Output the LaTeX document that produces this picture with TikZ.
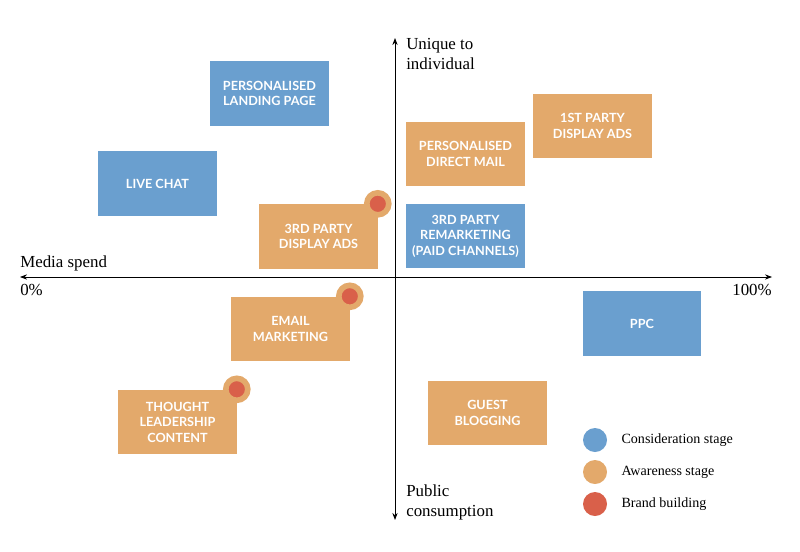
\documentclass[tikz,border=0pt]{standalone}
\usepackage{fontspec}
\setmainfont{Liberation Serif}
\newfontfamily\boxfont{Lato}
\usetikzlibrary{positioning,arrows.meta}
\definecolor{consblue}{HTML}{6A9FCF}
\definecolor{awareorange}{HTML}{E3A96B}
\definecolor{brandred}{HTML}{D9604A}

\begin{document}
\begin{tikzpicture}[
    x=0.025cm, y=-0.025cm,
    box/.style={rectangle, minimum width=2.95cm, minimum height=1.62cm, text=white, align=center, font=\boxfont\bfseries\small},
    cons/.style={box, fill=consblue},
    aware/.style={box, fill=awareorange},
    brand/.style={circle, fill=brandred, draw=awareorange, line width=4pt, minimum size=0.55cm, inner sep=0pt},
    dot/.style={circle, minimum size=0.6cm, inner sep=0pt},
    axis/.style={{Stealth[length=5pt]}-{Stealth[length=5pt]}, line width=0.6pt},
    lbl/.style={font=\large, align=left, inner sep=0pt}
]
\useasboundingbox (0,0) rectangle (800,551);

% axes
\coordinate (xl) at (20,277);
\coordinate (xr) at (772,277);
\coordinate (yt) at (395,38);
\coordinate (yb) at (395,520);
\draw[axis] (xl) -- (xr);
\draw[axis] (yt) -- (yb);

\node[lbl, anchor=north west] (unique) at (406,38) {Unique to\\individual};
\node[lbl, anchor=south west] (public) at (406,520) {Public\\consumption};
\node[lbl, anchor=south west] (spend) at (20,271) {Media spend};
\node[lbl, anchor=north west] (zero) at (20,284) {0\%};
\node[lbl, anchor=north east] (hundred) at (772,284) {100\%};

% boxes
\node[cons] (landing) at (269.5,93.5) {PERSONALISED\\LANDING PAGE};
\node[cons] (chat) at (157.5,183.5) {LIVE CHAT};
\node[aware] (thirdads) at (318.5,236.5) {3RD PARTY\\DISPLAY ADS};
\node[aware] (mail) at (465.5,154) {PERSONALISED\\DIRECT MAIL};
\node[aware] (firstads) at (592.5,126) {1ST PARTY\\DISPLAY ADS};
\node[cons] (remarket) at (465.5,236) {3RD PARTY\\REMARKETING\\(PAID CHANNELS)};
\node[cons] (ppc) at (642,323.5) {PPC};
\node[aware] (email) at (290.5,329) {EMAIL\\MARKETING};
\node[aware] (guest) at (487.5,413) {GUEST\\BLOGGING};
\node[aware] (thought) at (177.5,422) {THOUGHT\\LEADERSHIP\\CONTENT};

% brand building markers
\node[brand] (b1) at (thirdads.north east) {};
\node[brand] (b2) at (email.north east) {};
\node[brand] (b3) at (thought.north east) {};

% legend
\node[dot, fill=consblue] (lcons) at (595,440) {};
\node[dot, fill=awareorange] (laware) at (595,472) {};
\node[dot, fill=brandred] (lbrand) at (595,504) {};
\node[right=0.35cm of lcons, inner sep=0pt] {Consideration stage};
\node[right=0.35cm of laware, inner sep=0pt] {Awareness stage};
\node[right=0.35cm of lbrand, inner sep=0pt] {Brand building};

\end{tikzpicture}
\end{document}
